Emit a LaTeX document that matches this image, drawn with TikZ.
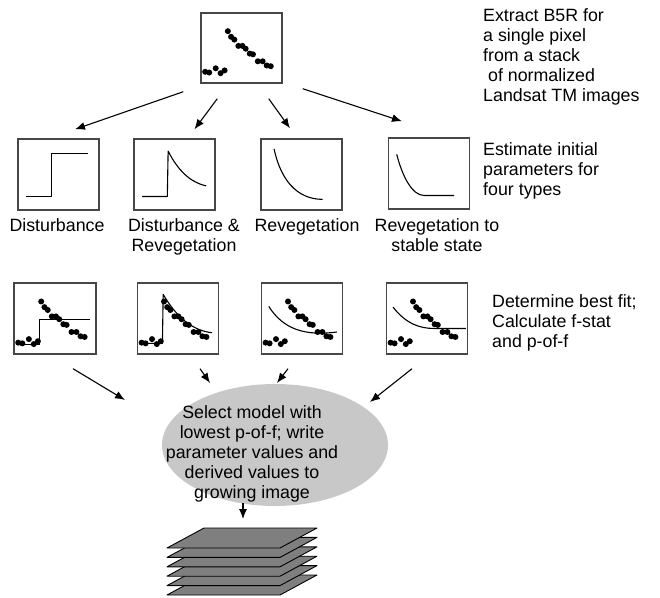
\documentclass[tikz,border=0pt]{standalone}
\usepackage{fontspec}
\setmainfont{Liberation Sans}
\usetikzlibrary{arrows.meta, calc, positioning, shapes.geometric}
\definecolor{boxborder}{HTML}{474747}
\definecolor{ellfill}{HTML}{C8C8C8}
\definecolor{layerfill}{HTML}{7F7F7F}
\tikzset{
  plotbox/.style={rectangle, draw=boxborder, line width=1.4pt, inner sep=0pt,
                  minimum width=81pt, minimum height=71pt},
  curve/.style={line width=1.1pt, draw=black, line join=round},
  pdot/.style={circle, fill=black, inner sep=0pt, minimum size=6pt},
  typelabel/.style={font=\fontsize{17.8}{20}\selectfont, align=center, inner sep=0pt, anchor=north},
  sidenote/.style={font=\fontsize{17.8}{20}\selectfont, align=left, inner sep=0pt, anchor=north west},
  flow/.style={-{Latex[length=10pt,width=8pt]}, line width=1.1pt},
  selell/.style={ellipse, fill=ellfill, inner sep=0pt, minimum width=226pt, minimum height=122pt},
  layer/.style={fill=layerfill, draw=black, line width=0.9pt, line join=round},
}
% reflectance of one pixel through time, in box units (x right, y down)
\newcommand{\pixeldots}{%
  \foreach \px/\py in {0.06/0.85, 0.11/0.86, 0.19/0.80, 0.25/0.87, 0.30/0.83,
      0.34/0.27, 0.38/0.35, 0.42/0.39, 0.47/0.48, 0.52/0.48, 0.56/0.52,
      0.61/0.59, 0.65/0.60, 0.71/0.70, 0.77/0.70, 0.82/0.76, 0.87/0.77}
    { \node[pdot] at (\px,\py) {}; }}

\begin{document}
\begin{tikzpicture}[x=1pt, y=-1pt]
\useasboundingbox (0,0) rectangle (660,597);

% Source pixel
\node[plotbox, minimum height=70pt] (src) at (241.5,48) {};
\begin{scope}[shift={(src.north west)}, x=81pt, y=-70pt]
  \pixeldots
\end{scope}
\node[sidenote] (srcnote) at (483,8) {Extract B5R for\\a single pixel\\from a stack\\\ of normalized\\Landsat TM images};

% Initial parameter shapes
\node[plotbox] (ini1) at (58.5,174.5) {};
\node[plotbox] (ini2) at (174.5,174.5) {};
\node[plotbox] (ini3) at (301.5,174.5) {};
\node[plotbox] (ini4) at (429,173.5) {};
\begin{scope}[shift={(ini1.north west)}, x=81pt, y=-71pt]
  \draw[curve] (0.11,0.82) -- (0.42,0.82) -- (0.42,0.21) -- (0.87,0.21);
\end{scope}
\begin{scope}[shift={(ini2.north west)}, x=81pt, y=-71pt]
  \draw[curve] (0.11,0.82) -- (0.42,0.82) -- (0.43,0.18)
    .. controls (0.55,0.45) and (0.70,0.62) .. (0.90,0.67);
\end{scope}
\begin{scope}[shift={(ini3.north west)}, x=81pt, y=-71pt]
  \draw[curve] (0.17,0.15) .. controls (0.25,0.58) and (0.45,0.86) .. (0.77,0.86);
\end{scope}
\begin{scope}[shift={(ini4.north west)}, x=81pt, y=-71pt]
  \draw[curve] (0.11,0.24) .. controls (0.18,0.55) and (0.30,0.82) .. (0.45,0.82) -- (0.82,0.82);
\end{scope}

\node[typelabel] (lab1) at (57,218)  {Disturbance};
\node[typelabel] (lab2) at (184,218) {Disturbance \&\\Revegetation};
\node[typelabel] (lab3) at (307,218) {Revegetation};
\node[typelabel] (lab4) at (437,218) {Revegetation to\\stable state};
\node[sidenote] (ininote) at (483,142) {Estimate initial\\parameters for\\four types};

% Fitted models
\node[plotbox, minimum width=82pt] (fit1) at (55,318.5) {};
\node[plotbox] (fit2) at (178,318.5) {};
\node[plotbox] (fit3) at (302,318.5) {};
\node[plotbox] (fit4) at (427,318.5) {};
\begin{scope}[shift={(fit1.north west)}, x=82pt, y=-71pt]
  \pixeldots
  \draw[curve] (0.07,0.87) -- (0.32,0.87) -- (0.32,0.53) -- (0.94,0.53);
\end{scope}
\begin{scope}[shift={(fit2.north west)}, x=80pt, y=-71pt]
  \pixeldots
  \draw[curve] (0.04,0.86) -- (0.32,0.86) -- (0.33,0.17)
    .. controls (0.50,0.50) and (0.70,0.68) .. (0.94,0.71);
\end{scope}
\begin{scope}[shift={(fit3.north west)}, x=80pt, y=-71pt]
  \pixeldots
  \draw[curve] (0.10,0.34) .. controls (0.28,0.66) and (0.55,0.76) .. (0.95,0.70);
\end{scope}
\begin{scope}[shift={(fit4.north west)}, x=80pt, y=-71pt]
  \pixeldots
  \draw[curve] (0.09,0.35) .. controls (0.25,0.58) and (0.42,0.65) .. (0.60,0.65) -- (1,0.65);
\end{scope}
\node[sidenote] (fitnote) at (492,294) {Determine best fit;\\Calculate f-stat\\and p-of-f};

% Model selection and output stack
\node[selell] (sel) at (275,445) {};
\node[typelabel] (seltxt) at (252,405.5) {Select model with\\lowest p-of-f; write\\parameter values and\\derived values to\\growing image};
\coordinate (stacktop) at (243,519);
\coordinate (stack) at (167,548);
\foreach \k in {5,4,...,0} {
  \draw[layer] ($(stack)+(0,9.4*\k)$) -- ++(113,0) -- ++(37,-20) -- ++(-113,0) -- cycle;
}

% Flow
\draw[flow] ($(src.south west)+(-17,8)$)  -- ($(ini1.north)+(16.5,-9)$);
\draw[flow] ($(src.south west)+(17,15)$)  -- ($(ini2.north)+(20,-9)$);
\draw[flow] ($(src.south east)+(-14,15)$) -- ($(ini3.north)+(-11.5,-10)$);
\draw[flow] ($(src.south east)+(20,5)$)   -- ($(ini4.north)+(-27,-16)$);
\draw[flow] ($(fit1.south)+(18,14)$)  -- ($(sel)+(-150,-45)$);
\draw[flow] ($(fit2.south)+(22,14)$)  -- ($(sel)+(-65,-62)$);
\draw[flow] ($(fit3.south)+(-14,14)$) -- ($(sel)+(2,-62)$);
\draw[flow] ($(fit4.south)+(-15,14)$) -- ($(sel)+(95,-43)$);
\draw[flow] ($(stacktop)+(0,-16)$) -- (stacktop);

\end{tikzpicture}
\end{document}
